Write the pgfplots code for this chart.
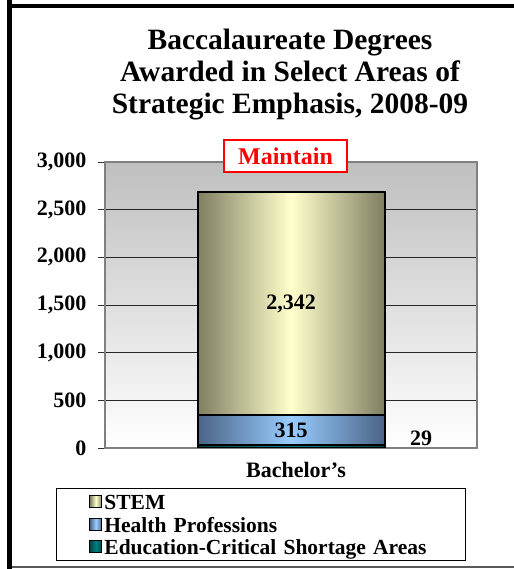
\documentclass[border=0pt]{standalone}
\usepackage{fontspec}
\setmainfont{Liberation Serif}
\usepackage{pgfplots}
\pgfplotsset{compat=1.18}
\definecolor{stemEdge}{HTML}{7F7F62}
\definecolor{stemMid}{HTML}{FFFFCC}
\definecolor{hlthEdge}{HTML}{4A6486}
\definecolor{hlthMid}{HTML}{99CCFF}
\definecolor{eduEdge}{HTML}{004545}
\definecolor{eduMid}{HTML}{008080}
\definecolor{frameGray}{HTML}{808080}
\begin{document}
\begin{tikzpicture}[x=1bp,y=1bp]
\useasboundingbox (0,0) rectangle (514,569);
\begin{axis}[
  at={(105bp,121bp)}, anchor=south west,
  scale only axis, width=372bp, height=286bp,
  xmin=0, xmax=1, ymin=0, ymax=3000,
  ybar stacked, bar width=187bp,
  xtick={0.5}, xticklabels={Bachelor\symbol{39}s},
  xtick style={draw=none},
  xticklabel style={font=\bfseries\fontsize{22bp}{24bp}\selectfont, yshift=-4bp, xshift=5bp},
  ytick={0,500,...,3000},
  ytick pos=left, tick align=outside, major tick length=7bp,
  ytick style={draw=black!80, line width=0.8bp},
  yticklabel style={font=\bfseries\fontsize{22bp}{24bp}\selectfont, xshift=-8bp},
  /pgf/number format/assume math mode=true,
  /pgf/number format/1000 sep={,},
  ymajorgrids, major grid style={draw=black!85, line width=0.8bp},
  axis line style={draw=frameGray, line width=1.6bp},
  axis background/.style={top color=black!25, bottom color=white},
  point meta=explicit,
  reverse legend,
  legend cell align=left,
  legend image code/.code={\draw[#1,draw=black,line width=1bp] (0bp,-6bp) rectangle (12bp,6bp);},
  legend style={at={(-0.1317,-0.1399)}, anchor=north west, draw=black, line width=0.8bp,
    font=\bfseries\fontsize{21.5bp}{23bp}\selectfont,
    inner xsep=33bp, inner ysep=2bp, row sep=0bp,
    nodes={text height=18bp, text depth=1.5bp, inner ysep=1.5bp, inner xsep=2bp},
    /tikz/column 2/.style={text width=326bp}},
]
\addplot[draw=black, line width=2bp, left color=eduEdge, right color=eduEdge, middle color=eduMid,
  nodes near coords, every node near coord/.style={anchor=center, xshift=130bp, yshift=8.6bp,
    font=\bfseries\fontsize{22bp}{24bp}\selectfont, text=black}]
  coordinates {(0.5,29) [29]};
\addlegendentry{Education-Critical Shortage Areas}
\addplot[draw=black, line width=2bp, left color=hlthEdge, right color=hlthEdge, middle color=hlthMid,
  nodes near coords, every node near coord/.style={anchor=center,
    font=\bfseries\fontsize{22bp}{24bp}\selectfont, text=black}]
  coordinates {(0.5,315) [315]};
\addlegendentry{Health Professions}
\addplot[draw=black, line width=2bp, left color=stemEdge, right color=stemEdge, middle color=stemMid,
  nodes near coords, every node near coord/.style={anchor=center,
    font=\bfseries\fontsize{22bp}{24bp}\selectfont, text=black}]
  coordinates {(0.5,2342) [2342]};
\addlegendentry{STEM}
\end{axis}
% title
\node[align=center, font=\bfseries\fontsize{29.5bp}{32bp}\selectfont] at (290,494)
  {Baccalaureate Degrees\\Awarded in Select Areas of\\Strategic Emphasis, 2008-09};
% Maintain box
\node[draw=red, line width=1.5bp, fill=white, text=red, font=\bfseries\fontsize{24bp}{26bp}\selectfont,
  minimum width=123bp, minimum height=32bp, inner sep=0pt] at (285.5,413) {Maintain};
% frame
\draw[black, line width=4.5bp] (9.5,569) -- (9.5,0);
\draw[black, line width=4bp] (7.5,563) -- (514,563);
\draw[black!65, line width=1.5bp] (12,2) -- (514,2);
\end{tikzpicture}
\end{document}
